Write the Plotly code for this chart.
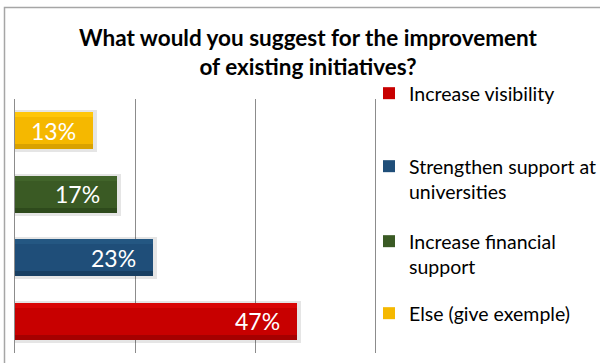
import plotly.graph_objects as go

# Survey answers, listed bottom-to-top on the chart
categories = ["Increase visibility", "Strengthen support at universities",
              "Increase financial support", "Else (give exemple)"]
legend_labels = ["Increase visibility", "Strengthen support at<br>universities",
                 "Increase financial<br>support", "Else (give exemple)"]
shares = [47, 23, 17, 13]

base_colors = ["#C80000", "#1F4E79", "#3A5A24", "#F5B800"]
light_colors = ["#D80606", "#245782", "#41642A", "#FFC60A"]
dark_colors = ["#A50000", "#183F62", "#2E4A1C", "#D9A200"]

W, H = 600, 363
ML, MR, MT, MB = 15, 225, 99, 10
PW, PH = W - ML - MR, H - MT - MB

BAR_W = 0.58
STRIP = 0.08


def px_x(px):
    return (px - ML) / PW


def px_y(py):
    return (H - MB - py) / PH


fig = go.Figure()
legend_names = ["legend", "legend2", "legend3", "legend4"]

for i, (cat, lab, v) in enumerate(zip(categories, legend_labels, shares)):
    # soft drop shadow behind the bar
    fig.add_trace(go.Bar(
        x=[v + 0.6], y=[cat], orientation="h", showlegend=False,
        width=BAR_W + 0.08, offset=-BAR_W / 2 - 0.05,
        marker=dict(color="rgba(0,0,0,0.10)", line=dict(width=0)), hoverinfo="skip",
    ))
    # main bar
    fig.add_trace(go.Bar(
        x=[v], y=[cat], orientation="h", name=lab,
        width=BAR_W, offset=-BAR_W / 2,
        marker=dict(color=base_colors[i], line=dict(width=0)),
        legend=legend_names[i], hoverinfo="skip",
    ))
    # bevel: lighter top strip and darker bottom strip
    fig.add_trace(go.Bar(
        x=[v], y=[cat], orientation="h", showlegend=False,
        width=STRIP, offset=BAR_W / 2 - STRIP,
        marker=dict(color=light_colors[i], line=dict(width=0)), hoverinfo="skip",
    ))
    fig.add_trace(go.Bar(
        x=[v], y=[cat], orientation="h", showlegend=False,
        width=STRIP, offset=-BAR_W / 2,
        marker=dict(color=dark_colors[i], line=dict(width=0)), hoverinfo="skip",
    ))
    # value label near the bar end
    fig.add_annotation(
        x=v, y=cat, text=f"{v}%", showarrow=False, xanchor="right", xshift=-15,
        font=dict(family="Lato", size=23, color="white"),
    )

# legend boxes placed in page pixels (container coordinates)
legend_tops = [74, 147, 222, 294]
for name, top in zip(legend_names, legend_tops):
    fig.update_layout({name: dict(
        xref="container", yref="container",
        x=369 / W, xanchor="left", y=1 - top / H, yanchor="top",
        font=dict(family="Lato", size=19.5, color="#000000"),
        bgcolor="rgba(0,0,0,0)", valign="top", itemclick=False,
    )})

fig.update_layout(
    width=W, height=H,
    margin=dict(l=ML, r=MR, t=MT, b=MB, autoexpand=False),
    paper_bgcolor="white", plot_bgcolor="white",
    barmode="overlay", bargap=0,
    title=dict(
        text="What would you suggest for the improvement<br>of existing initiatives?",
        font=dict(family="Lato", size=22.5, color="#000000", weight="bold"),
        x=308 / W, xanchor="center", y=1 - 46 / H, yanchor="top",
    ),
    xaxis=dict(range=[0, 60], dtick=20, showticklabels=False, showgrid=True,
               gridcolor="#8C8C8C", gridwidth=1, zeroline=False,
               showline=False, fixedrange=True),
    yaxis=dict(categoryorder="array", categoryarray=categories,
               showticklabels=False, showgrid=False, zeroline=False,
               showline=True, mirror=True, linecolor="#8C8C8C", linewidth=1,
               fixedrange=True),
    shapes=[dict(type="rect", xref="paper", yref="paper",
                 x0=px_x(4.5), x1=px_x(620), y0=px_y(380), y1=px_y(7.5),
                 line=dict(color="#A6A6A6", width=1.5), layer="below")],
)

fig.write_html("out.html")
